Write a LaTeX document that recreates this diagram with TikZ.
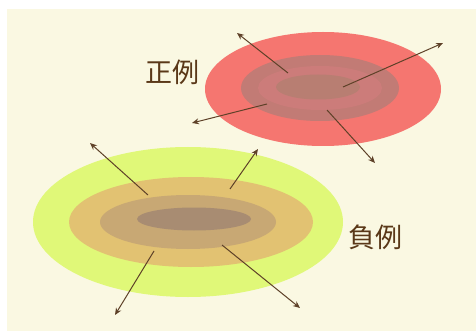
\documentclass[tikz,border=0pt]{standalone}
\usepackage{fontspec}
\newfontfamily\cjk{Noto Sans CJK JP}
\usetikzlibrary{arrows.meta}
\definecolor{bgcream}{HTML}{FAF8E2}
\definecolor{redA}{HTML}{F57670}
\definecolor{redB}{HTML}{C27B75}
\definecolor{redC}{HTML}{CC7C7A}
\definecolor{redD}{HTML}{B87E72}
\definecolor{grA}{HTML}{E0F878}
\definecolor{grB}{HTML}{E2C272}
\definecolor{grC}{HTML}{C8A874}
\definecolor{grD}{HTML}{A88C72}
\definecolor{arrowbrown}{HTML}{5E4128}
\definecolor{textbrown}{HTML}{5A3818}
\tikzset{
  vec/.style={draw=arrowbrown, line width=1pt, -{Stealth[length=7pt,width=6pt]}},
  lbl/.style={text=textbrown, font=\cjk\fontsize{27}{27}\selectfont, inner sep=0pt}
}
\begin{document}
\begin{tikzpicture}[x=1pt,y=-1pt]
\useasboundingbox (0,0) rectangle (476,331);
\fill[white] (0,0) rectangle (476,331);
\fill[bgcream] (7,9) rectangle (476,331);
% positive (red) cluster
\fill[redA] (323,89) ellipse [x radius=118, y radius=57];
\fill[redB] (320,88) ellipse [x radius=79, y radius=33];
\fill[redC] (320,88) ellipse [x radius=62, y radius=22];
\fill[redD] (318,87) ellipse [x radius=42, y radius=12.5];
% negative (green) cluster
\fill[grA] (188,222) ellipse [x radius=155, y radius=75];
\fill[grB] (191,222) ellipse [x radius=122, y radius=45];
\fill[grC] (188,222) ellipse [x radius=88, y radius=27];
\fill[grD] (194,219) ellipse [x radius=57, y radius=11.5];
% arrow endpoints
\coordinate (p1s) at (288,73);  \coordinate (p1e) at (237,33);
\coordinate (p2s) at (343,87);  \coordinate (p2e) at (443,43);
\coordinate (p3s) at (267,104); \coordinate (p3e) at (192,123);
\coordinate (p4s) at (327,110); \coordinate (p4e) at (375,163);
\coordinate (n1s) at (148,195); \coordinate (n1e) at (90,143);
\coordinate (n2s) at (230,189); \coordinate (n2e) at (258,149);
\coordinate (n3s) at (154,251); \coordinate (n3e) at (115,315);
\coordinate (n4s) at (222,245); \coordinate (n4e) at (300,308);
\draw[vec] (p1s) -- (p1e);
\draw[vec] (p2s) -- (p2e);
\draw[vec] (p3s) -- (p3e);
\draw[vec] (p4s) -- (p4e);
\draw[vec] (n1s) -- (n1e);
\draw[vec] (n2s) -- (n2e);
\draw[vec] (n3s) -- (n3e);
\draw[vec] (n4s) -- (n4e);
% labels
\node[lbl] (pos) at (172,72) {正例};
\node[lbl] (neg) at (375,237) {負例};
\end{tikzpicture}
\end{document}
